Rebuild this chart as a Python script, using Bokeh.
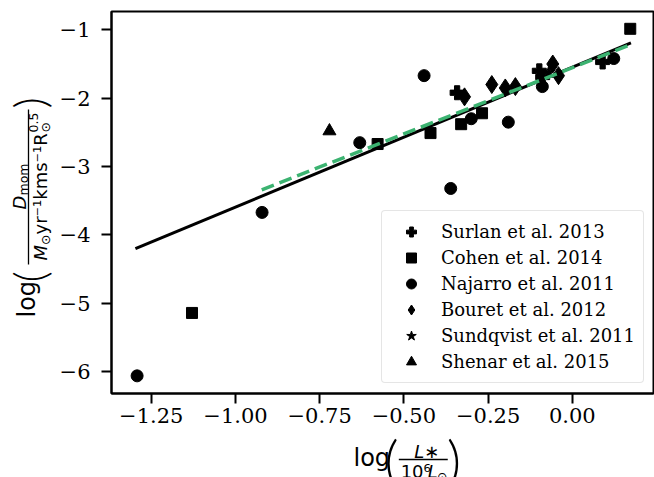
from math import pi
from bokeh.plotting import figure
from bokeh.layouts import row, column
from bokeh.models import Range1d, FixedTicker, Legend, LegendItem
from bokeh.core.properties import value
from bokeh.embed import file_html
from bokeh.resources import INLINE

# ---------------- data ----------------
surlan_x = [-0.342, -0.098, -0.088, 0.090]
surlan_y = [-1.92, -1.60, -1.69, -1.47]
cohen_x = [-1.129, -0.578, -0.421, -0.330, -0.268, 0.172]
cohen_y = [-5.14, -2.67, -2.51, -2.38, -2.22, -0.985]
najarro_x = [-1.292, -0.921, -0.631, -0.440, -0.361, -0.300, -0.190, -0.089, 0.123]
najarro_y = [-6.06, -3.67, -2.65, -1.67, -3.32, -2.30, -2.35, -1.83, -1.42]
bouret_x = [-0.320, -0.239, -0.199, -0.169, -0.058, -0.041]
bouret_y = [-1.98, -1.80, -1.85, -1.83, -1.50, -1.67]
sundqvist_x = [-0.070]
sundqvist_y = [-1.62]
shenar_x = [-0.721]
shenar_y = [-2.48]

fit_all_x = [-1.297, 0.174]
fit_all_y = [-4.20, -1.19]
fit_sub_x = [-0.922, 0.172]
fit_sub_y = [-3.34, -1.22]

x_ticks = [-1.25, -1.0, -0.75, -0.5, -0.25, 0.0]
x_tick_labels = ["\u22121.25", "\u22121.00", "\u22120.75", "\u22120.50", "\u22120.25", "0.00"]
y_ticks = [-6, -5, -4, -3, -2, -1]
y_tick_labels = ["\u22126", "\u22125", "\u22124", "\u22123", "\u22122", "\u22121"]

series_names = ["Surlan et al. 2013", "Cohen et al. 2014", "Najarro et al. 2011",
                "Bouret et al. 2012", "Sundqvist et al. 2011", "Shenar et al. 2015"]

# ---------------- page geometry ----------------
PAGE_W, PAGE_H = 654, 477
LW = 56            # width of the strip holding the y label
BH = 44            # height of the strip holding the x label
MW, MH = PAGE_W - LW, PAGE_H - BH

# ---------------- main figure ----------------
p = figure(width=MW, height=MH, output_backend="svg", toolbar_location=None,
           x_range=Range1d(-1.368, 0.241), y_range=Range1d(-6.318, -0.732),
           min_border_left=53, min_border_right=1, min_border_top=11, min_border_bottom=40)
p.background_fill_color = "white"
p.border_fill_color = "white"
p.grid.visible = False
p.outline_line_color = "black"
p.outline_line_width = 2

for ax in (p.xaxis[0], p.yaxis[0]):
    ax.axis_line_width = 2
    ax.axis_line_color = "black"
    ax.major_tick_line_width = 2
    ax.major_tick_line_color = "black"
    ax.major_tick_out = 10
    ax.major_tick_in = 0
    ax.minor_tick_line_color = None
    ax.major_label_text_font = "DejaVu Serif"
    ax.major_label_text_font_size = "21px"
    ax.major_label_text_color = "black"
    ax.axis_label = None

p.xaxis.ticker = FixedTicker(ticks=x_ticks)
p.xaxis.major_label_overrides = {t: s for t, s in zip(x_ticks, x_tick_labels)}
p.xaxis.major_label_standoff = 4
p.yaxis.ticker = FixedTicker(ticks=y_ticks)
p.yaxis.major_label_overrides = {t: s for t, s in zip(y_ticks, y_tick_labels)}
p.yaxis.major_label_standoff = 11

r_surlan = p.scatter(surlan_x, surlan_y, marker="plus", size=14, color="black")
r_cohen = p.scatter(cohen_x, cohen_y, marker="square", size=11, color="black")
r_najarro = p.scatter(najarro_x, najarro_y, marker="circle", size=12, color="black")
r_bouret = p.scatter(bouret_x, bouret_y, marker="diamond", size=18, color="black")
r_sund = p.scatter(sundqvist_x, sundqvist_y, marker="star", size=13, color="black")
r_shenar = p.scatter(shenar_x, shenar_y, marker="triangle", size=13, color="black")

p.line(fit_all_x, fit_all_y, line_color="black", line_width=3)
p.line(fit_sub_x, fit_sub_y, line_color="#3cb371", line_width=3.5, line_dash="13 6")

legend = Legend(items=[LegendItem(label=n, renderers=[r]) for n, r in zip(
    series_names, [r_surlan, r_cohen, r_najarro, r_bouret, r_sund, r_shenar])],
    location=(270, 10))
legend.label_text_font = "DejaVu Serif"
legend.label_text_font_size = "18px"
legend.label_text_color = "black"
legend.border_line_color = "#cccccc"
legend.border_line_width = 1
legend.background_fill_alpha = 0.8
legend.padding = 8
legend.spacing = 1
legend.glyph_width = 42
legend.glyph_height = 25
legend.label_height = 20
legend.label_standoff = 9
legend.margin = 0
try:
    legend.border_radius = 4
except Exception:
    pass
p.add_layout(legend)


# ---------------- strips for the composed math axis labels ----------------
def strip(w, h, x0):
    f = figure(width=w, height=h, output_backend="svg", toolbar_location=None,
               x_range=Range1d(x0, x0 + w), y_range=Range1d(0, h),
               x_axis_location=None, y_axis_location=None,
               min_border=0, min_border_left=0, min_border_right=0,
               min_border_top=0, min_border_bottom=0)
    f.grid.visible = False
    f.outline_line_color = None
    f.background_fill_color = "white"
    f.border_fill_color = "white"
    return f


L = strip(LW, PAGE_H, 0)
B = strip(MW, BH, LW)

MID = 0.30  # distance (in em) from the alphabetic baseline up to the em-box middle
SANS = "DejaVu Sans"
PAREN = "Lato Light, DejaVu Sans"


def txt(f, t, px, py, size, style, angle, font):
    # px, py: page pixels from the top-left corner; anchored at the em-box middle
    f.text(x=[px], y=[PAGE_H - py], text=[t], text_font=value(font),
           text_font_size=f"{size}px", text_font_style=style, angle=angle,
           text_align="left", text_baseline="middle", text_color="black")


def bar(f, px0, py0, px1, py1):
    f.line([px0, px1], [PAGE_H - py0, PAGE_H - py1], line_color="black", line_width=1.3)


# x label: log( L* / 10^6 Lsun ); u along the text, v = baseline height above the bar
X0, Y0 = 381, 459
def hx(t, u, v, s, st="normal", font=SANS, mid=MID):
    txt(B, t, X0 + u, Y0 - (v + mid * s), s, st, 0.0, font)

hx("log", -58, -6, 24)
hx("(", -24, 0, 56, font=PAREN, mid=0)
bar(B, X0 - 8, Y0, X0 + 46, Y0)
hx("L\u2217", 9, 3, 18, "italic")
hx("10\u2076", -6, -17, 18)
hx("L", 24, -17, 18, "italic")
hx("\u2299", 34, -21, 12.5)
hx(")", 45, 0, 56, font=PAREN, mid=0)

# y label: log( D_mom / Msun yr^-1 km s^-1 Rsun^0.5 ), rotated a quarter turn
XB, YC = 28, 202
def vy(t, u, v, s, st="normal", font=SANS, mid=MID):
    txt(L, t, XB - (v + mid * s), YC - u, s, st, pi / 2, font)

vy("log", -115, -6, 24)
vy("(", -80, 0, 44, font=PAREN, mid=0)
bar(L, XB, YC + 62, XB, YC - 93)
vy("D", -7, 4, 18, "italic")
vy("mom", 7, 1, 12.5)
vy("M", -58, -17, 18, "italic")
vy("\u2299", -42.5, -21, 12.5)
vy("yr\u207b\u00b9kms\u207b\u00b9R", -32, -17, 18)
vy("\u2299", 70, -21, 12.5)
vy("0.5", 70, -9, 12.5)
vy(")", 94, 0, 44, font=PAREN, mid=0)

root = row(L, column(p, B, spacing=0), spacing=0)
open("out.html", "w").write(file_html(root, INLINE))
